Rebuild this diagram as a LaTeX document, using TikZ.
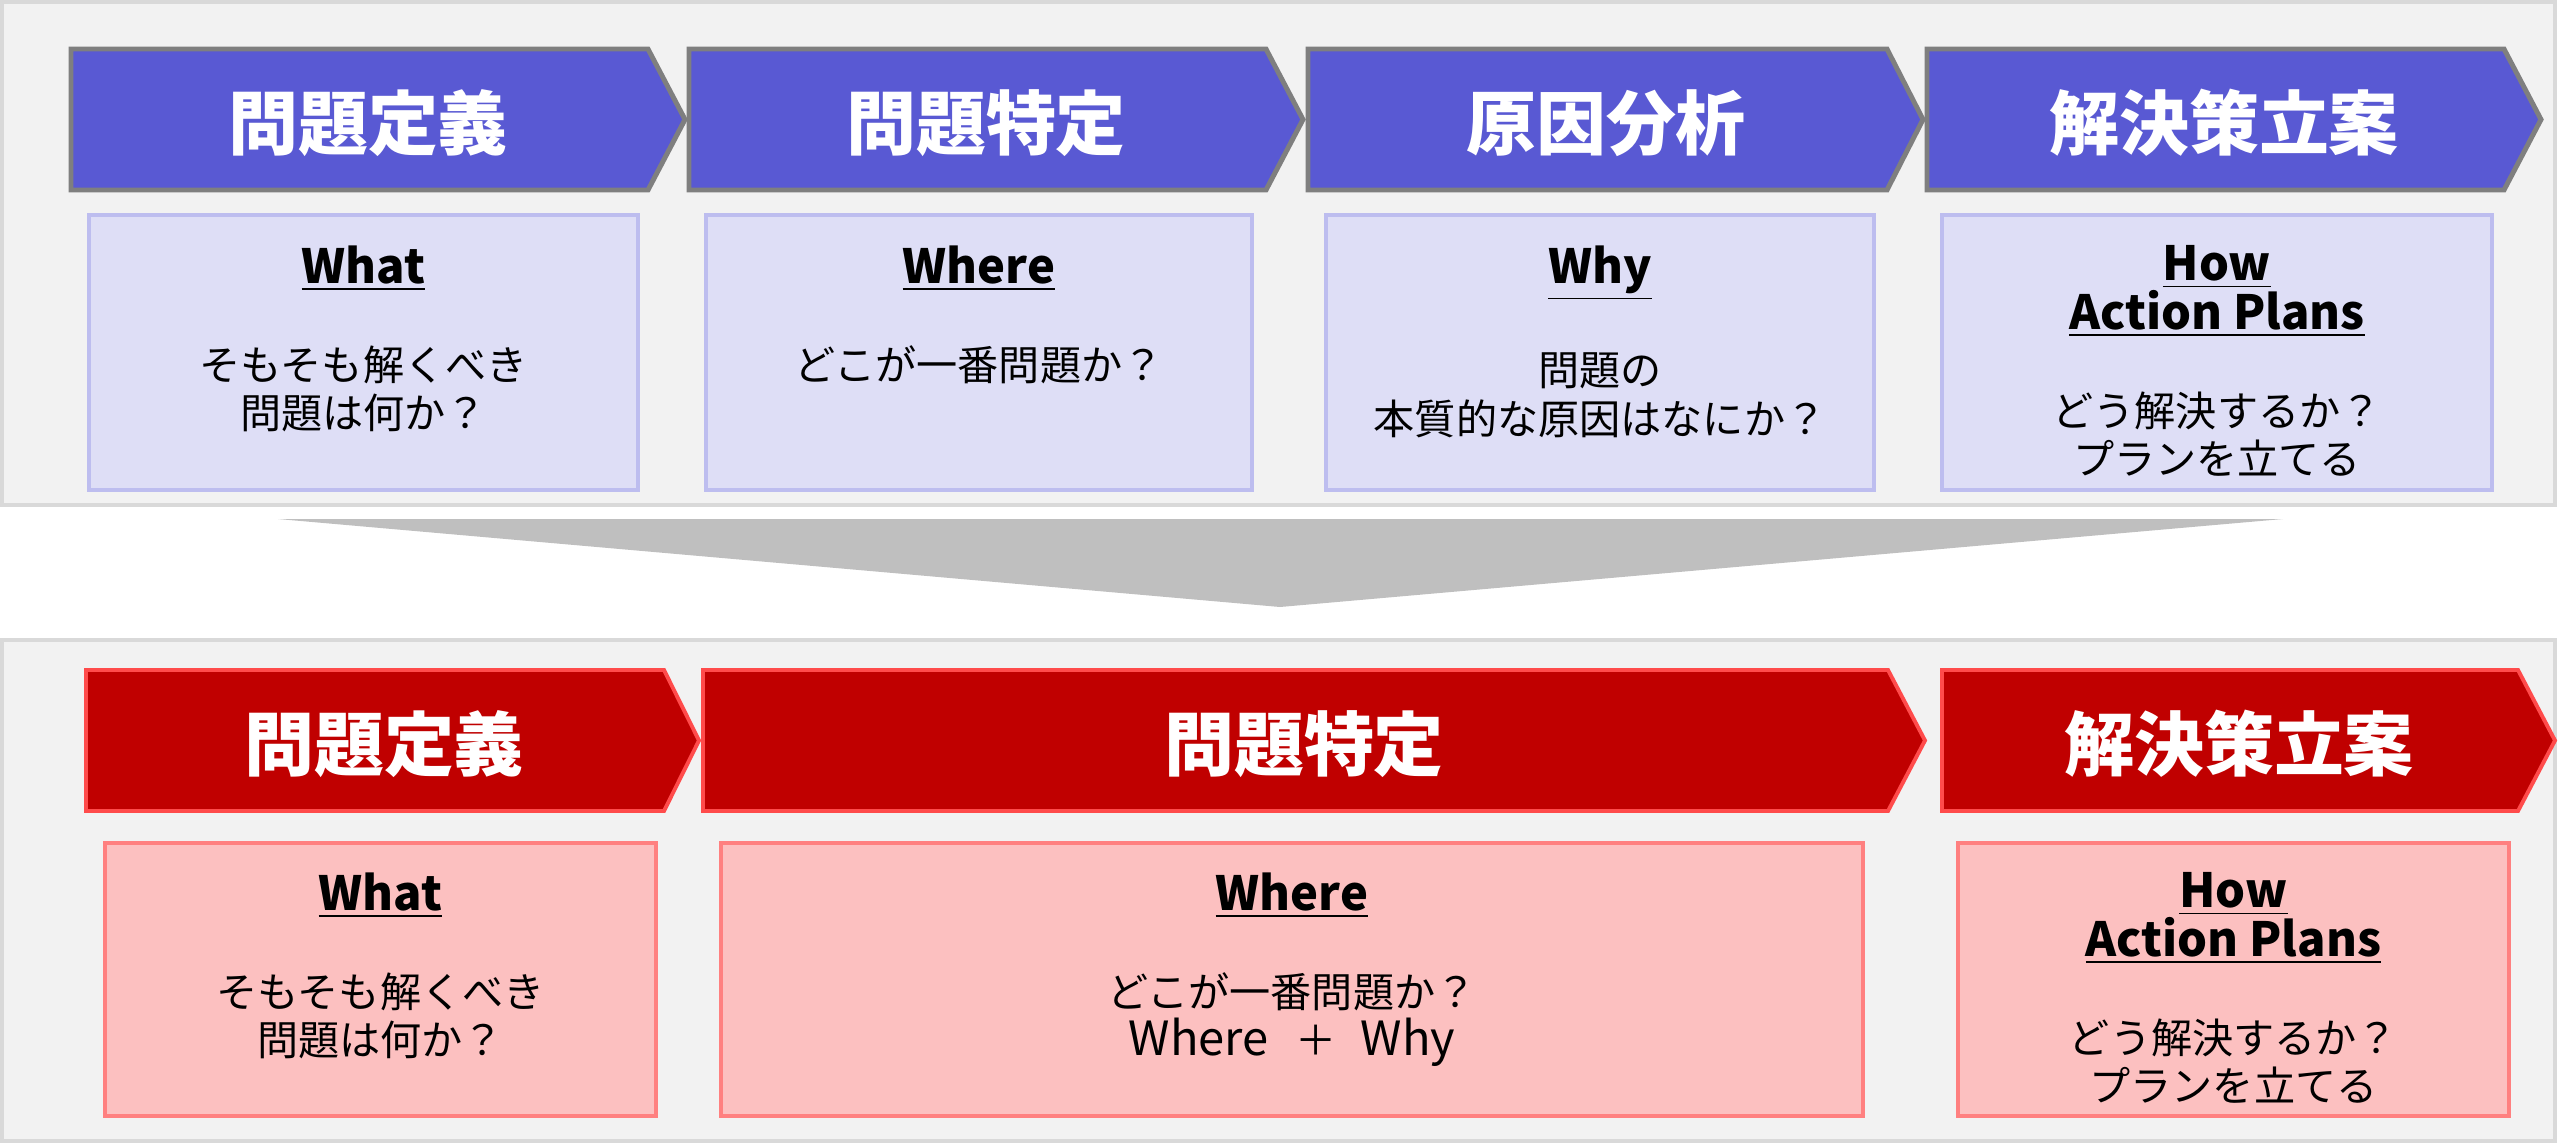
\documentclass[tikz,border=0pt]{standalone}
\usepackage{fontspec}
\setmainfont{Noto Sans CJK JP}

\definecolor{panelfill}{HTML}{F2F2F2}
\definecolor{panelline}{HTML}{D9D9D9}
\definecolor{bluefill}{HTML}{5959D3}
\definecolor{blueline}{HTML}{7F7F7F}
\definecolor{lavfill}{HTML}{DEDEF6}
\definecolor{lavline}{HTML}{BDBDEF}
\definecolor{redfill}{HTML}{C00000}
\definecolor{redline}{HTML}{FF4B4B}
\definecolor{pinkfill}{HTML}{FCC0C0}
\definecolor{pinkline}{HTML}{FF8080}
\definecolor{funnelgray}{HTML}{BFBFBF}

\newcommand{\hdr}[1]{{\fontsize{13.4pt}{13.8pt}\selectfont\underline{\textbf{#1}}}}
\newcommand{\lat}[1]{{\fontsize{13.4pt}{13.8pt}\selectfont #1}}

\begin{document}
\begin{tikzpicture}[x=0.01cm, y=-0.01cm,
  panel/.style={fill=panelfill, draw=panelline, line width=1.1pt},
  bluechev/.style={fill=bluefill, draw=blueline, line width=1.4pt},
  redchev/.style={fill=redfill, draw=redline, line width=1.1pt},
  lavbox/.style={fill=lavfill, draw=lavline, line width=1.1pt},
  pinkbox/.style={fill=pinkfill, draw=pinkline, line width=1.1pt},
  title/.style={text=white, inner sep=0pt, font=\fontsize{19.9pt}{24pt}\selectfont\bfseries},
  boxtext/.style={anchor=north, inner sep=0pt, align=center, font=\fontsize{11.7pt}{13.8pt}\selectfont},
]

\useasboundingbox (0,0) rectangle (2560,1145);

% panels
\draw[panel] (2,2) rectangle (2555,505);
\draw[panel] (2,640) rectangle (2555,1141);

% funnel
\fill[funnelgray] (278,519) -- (2283,519) -- (1280,607) -- cycle;

% current steps
\draw[bluechev] (71,49) -- (648,49) -- (685,119.5) -- (648,190) -- (71,190) -- cycle;
\draw[bluechev] (689,49) -- (1266,49) -- (1303,119.5) -- (1266,190) -- (689,190) -- cycle;
\draw[bluechev] (1308,49) -- (1887,49) -- (1923,119.5) -- (1887,190) -- (1308,190) -- cycle;
\draw[bluechev] (1927,49) -- (2504,49) -- (2541,119.5) -- (2504,190) -- (1927,190) -- cycle;

\node[title] (define) at (368,123) {問題定義};
\node[title] (locate) at (986,123) {問題特定};
\node[title] (cause) at (1606,123) {原因分析};
\node[title] (solve) at (2224,123) {解決策立案};

% current boxes
\draw[lavbox] (89,215) rectangle (638,490);
\draw[lavbox] (706,215) rectangle (1252,490);
\draw[lavbox] (1326,215) rectangle (1874,490);
\draw[lavbox] (1942,215) rectangle (2492,490);

\node[boxtext] (what) at (363.5,245) {\hdr{What}\\[13.8pt]そもそも解くべき\\問題は何か？};
\node[boxtext] (where) at (979,245) {\hdr{Where}\\[13.8pt]どこが一番問題か？};
\node[boxtext] (why) at (1600,245) {\hdr{Why}\\[13.8pt]問題の\\本質的な原因はなにか？};
\node[boxtext] (how) at (2217,245) {\hdr{How}\\\hdr{Action Plans}\\[13.8pt]どう解決するか？\\プランを立てる};

% new steps
\draw[redchev] (86,670) -- (664,670) -- (699,740.5) -- (664,811) -- (86,811) -- cycle;
\draw[redchev] (703,670) -- (1888,670) -- (1925,740.5) -- (1888,811) -- (703,811) -- cycle;
\draw[redchev] (1942,670) -- (2518,670) -- (2555,740.5) -- (2518,811) -- (1942,811) -- cycle;

\node[title] (newdefine) at (384,744) {問題定義};
\node[title] (newlocate) at (1304,744) {問題特定};
\node[title] (newsolve) at (2239,744) {解決策立案};

% new boxes
\draw[pinkbox] (105,843) rectangle (656,1116);
\draw[pinkbox] (721,843) rectangle (1863,1116);
\draw[pinkbox] (1958,843) rectangle (2509,1116);

\node[boxtext] (newwhat) at (380.5,872) {\hdr{What}\\[13.8pt]そもそも解くべき\\問題は何か？};
\node[boxtext] (newwhere) at (1292,872) {\hdr{Where}\\[13.8pt]どこが一番問題か？\\\lat{Where}\hspace{7.5pt}＋\hspace{7pt}\lat{Why}};
\node[boxtext] (newhow) at (2233.5,872) {\hdr{How}\\\hdr{Action Plans}\\[13.8pt]どう解決するか？\\プランを立てる};

\end{tikzpicture}
\end{document}
